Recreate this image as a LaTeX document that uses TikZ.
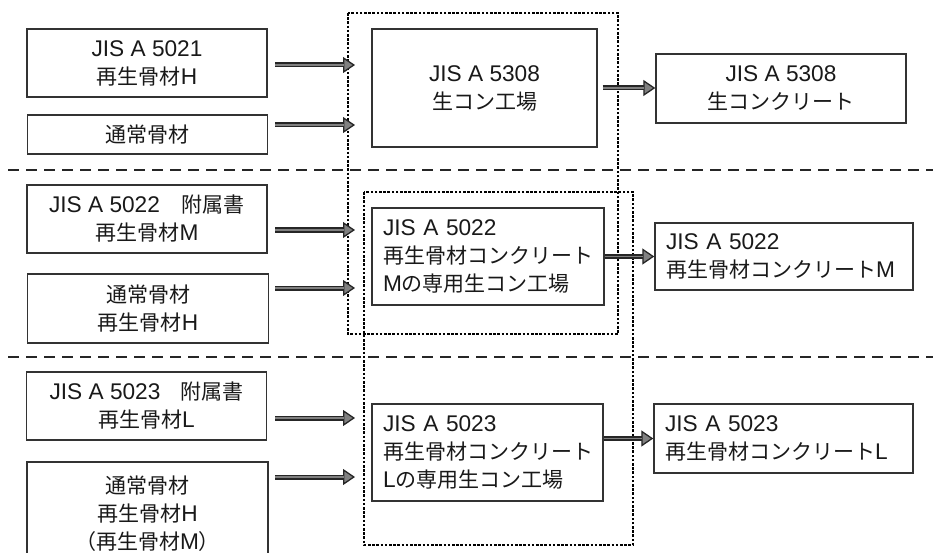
\documentclass[tikz,border=0pt]{standalone}
\usepackage{fontspec}
\setmainfont{Liberation Sans}[Scale=1.08]
\newfontfamily\cjk{Noto Sans CJK JP}
\usetikzlibrary{arrows.meta}
\begin{document}
\begin{tikzpicture}[x=1pt,y=-1pt,
  box/.style={draw=black!80, line width=1.4pt, inner sep=0pt, align=center,
    font=\fontsize{21}{28}\selectfont, text=black!90},
  lbox/.style={box, align=left, inner xsep=11pt, inner ysep=0pt},
  sepline/.style={line width=2.2pt, black!85, dash pattern=on 11pt off 7pt},
  grp/.style={line width=2.6pt, black, dash pattern=on 2.6pt off 1.6pt},
  arr/.style={draw=black!85, line width=5pt,
    -{Triangle[length=12pt,width=16pt,line width=1.3pt,fill=black!50]},
    postaction={draw=black!50, line width=1.6pt, -, shorten >=11pt}}
]
\path[use as bounding box] (0,0) rectangle (933,553);
\clip (0,0) rectangle (933,553);

% group frames
\draw[grp] (348,13) rectangle (618,334);
\draw[grp] (364,192) rectangle (633,545);

% separators
\draw[sepline] (8,170) -- (933,170);
\draw[sepline] (8,357) -- (933,357);

% left boxes
\node[box, minimum width=240pt, minimum height=68pt] (L1) at (147,63)
  {JIS A 5021\\{\cjk 再生骨材}H};
\node[box, minimum width=240pt, minimum height=39pt] (L2) at (147.5,134.5)
  {{\cjk 通常骨材}};
\node[box, minimum width=240pt, minimum height=68pt] (L3) at (147,219)
  {JIS A 5022\hspace{22pt}{\cjk 附属書}\\{\cjk 再生骨材}M};
\node[box, minimum width=241pt, minimum height=69pt] (L4) at (148,308.5)
  {{\cjk 通常骨材}\\{\cjk 再生骨材}H};
\node[box, minimum width=240pt, minimum height=68pt] (L5) at (146.5,406)
  {JIS A 5023\hspace{20pt}{\cjk 附属書}\\{\cjk 再生骨材}L};
\node[box, minimum width=241pt, minimum height=103pt] (L6) at (147.5,513.5)
  {{\cjk 通常骨材}\\{\cjk 再生骨材}H\\{\cjk （再生骨材}M{\cjk ）}};

% centre boxes
\node[box, minimum width=225pt, minimum height=118pt] (C1) at (484.5,88)
  {JIS A 5308\\{\cjk 生コン工場}};
\node[lbox, text width=210pt, minimum height=97pt] (C2) at (488,256.5)
  {JIS A 5022\\{\cjk 再生骨材コンクリート}\\M{\cjk の専用生コン工場}};
\node[lbox, text width=209pt, minimum height=97pt] (C3) at (487.5,452.5)
  {JIS A 5023\\{\cjk 再生骨材コンクリート}\\L{\cjk の専用生コン工場}};

% right boxes
\node[box, minimum width=250pt, minimum height=69pt] (R1) at (781,88.5)
  {JIS A 5308\\{\cjk 生コンクリート}};
\node[lbox, text width=236pt, minimum height=67pt] (R2) at (784,256.5)
  {JIS A 5022\\{\cjk 再生骨材コンクリート}M};
\node[lbox, text width=237pt, minimum height=69pt] (R3) at (783.5,438.5)
  {JIS A 5023\\{\cjk 再生骨材コンクリート}L};

% arrow end points on the left
\coordinate (s1) at (275,65);  \coordinate (e1) at (355,65);
\coordinate (s2) at (275,125); \coordinate (e2) at (355,125);
\coordinate (s3) at (275,230); \coordinate (e3) at (355,230);
\coordinate (s4) at (275,288); \coordinate (e4) at (355,288);
\coordinate (s5) at (275,418); \coordinate (e5) at (355,418);
\coordinate (s6) at (275,477); \coordinate (e6) at (355,477);

\foreach \i in {1,...,6} \draw[arr] (s\i) -- (e\i);

% arrows to the right
\draw[arr] ([xshift=5pt]C1.east) -- (C1.east -| R1.west);
\draw[arr] (C2.east) -- (R2.west);
\draw[arr] (C3.east |- R3.west) -- (R3.west);
\end{tikzpicture}
\end{document}
